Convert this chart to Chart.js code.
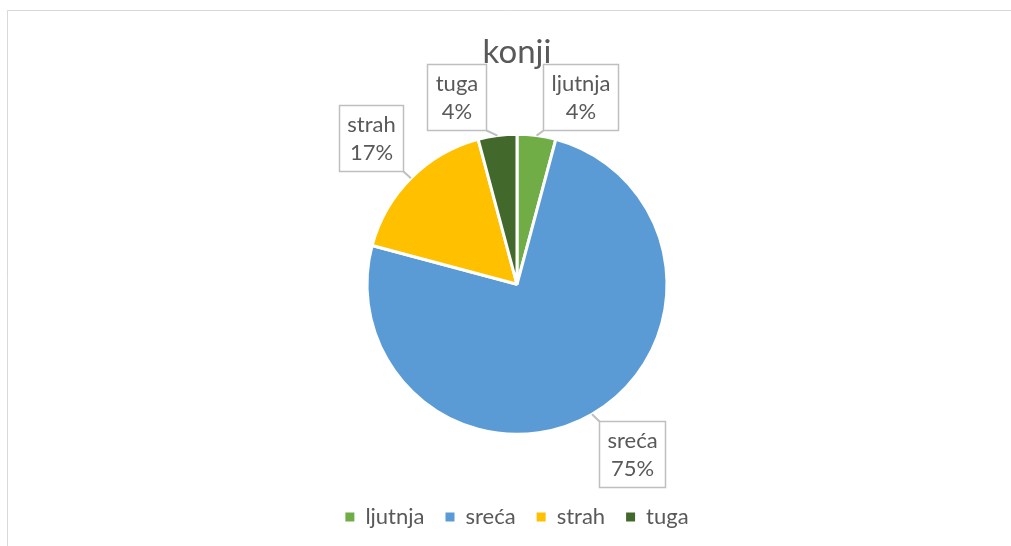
<!DOCTYPE html>
<html>
<head>
<meta charset="utf-8">
<script src="https://cdn.jsdelivr.net/npm/chart.js@4"></script>
<style>
  html, body { margin: 0; padding: 0; background: #fff; }
  #wrap { position: relative; width: 1011px; height: 546px; }
</style>
</head>
<body>
<div id="wrap"><canvas id="konjiChart" width="1011" height="546"></canvas></div>
<script>
'use strict';

var categories = ['ljutnja', 'sreća', 'strah', 'tuga'];
var counts = [1, 18, 4, 1];
var sliceColors = ['#70AD47', '#5B9BD5', '#FFC000', '#43682B'];
var chartTitle = 'konji';

var FONT = 'Lato, "Open Sans", sans-serif';
var TEXT_COLOR = '#595959';

// callout placement: distance from centre (x radius) plus a small nudge per label
var calloutDist = 4 / 3;
var calloutNudge = [[37, 11], [15, -4], [-5, -5], [-34, 11]];

var frame = {
  id: 'frame',
  beforeDraw: function (chart) {
    var ctx = chart.ctx;
    ctx.save();
    ctx.strokeStyle = '#D9D9D9';
    ctx.lineWidth = 1;
    ctx.beginPath();
    ctx.moveTo(7.5, chart.height);
    ctx.lineTo(7.5, 10.5);
    ctx.lineTo(chart.width, 10.5);
    ctx.stroke();
    ctx.restore();
  }
};

var callouts = {
  id: 'callouts',
  afterDatasetsDraw: function (chart) {
    var ctx = chart.ctx;
    var meta = chart.getDatasetMeta(0);
    var data = chart.data.datasets[0].data;
    var total = data.reduce(function (a, b) { return a + b; }, 0);
    ctx.save();
    ctx.font = '22px ' + FONT;
    meta.data.forEach(function (arc, i) {
      var p = arc.getProps(['x', 'y', 'startAngle', 'endAngle', 'outerRadius'], true);
      var mid = (p.startAngle + p.endAngle) / 2;
      var ax = p.x + Math.cos(mid) * p.outerRadius;
      var ay = p.y + Math.sin(mid) * p.outerRadius;
      var cx = p.x + Math.cos(mid) * p.outerRadius * calloutDist + calloutNudge[i][0];
      var cy = p.y + Math.sin(mid) * p.outerRadius * calloutDist + calloutNudge[i][1];
      var lines = [chart.data.labels[i], Math.round(data[i] / total * 100) + '%'];
      var tw = Math.max.apply(null, lines.map(function (t) { return ctx.measureText(t).width; }));
      var w = Math.round(tw + 16), h = 66;
      var left = Math.round(cx - w / 2) + 0.5, top = Math.round(cy - h / 2) + 0.5;
      var nx = Math.min(Math.max(ax, left), left + w);
      var ny = Math.min(Math.max(ay, top), top + h);

      ctx.strokeStyle = '#BFBFBF';
      ctx.lineWidth = 2;
      ctx.beginPath();
      ctx.moveTo(ax, ay);
      ctx.lineTo(nx, ny);
      ctx.stroke();

      ctx.fillStyle = '#FFFFFF';
      ctx.fillRect(left, top, w, h);
      ctx.lineWidth = 1.5;
      ctx.strokeRect(left, top, w, h);

      ctx.fillStyle = TEXT_COLOR;
      ctx.textAlign = 'center';
      ctx.textBaseline = 'middle';
      ctx.fillText(lines[0], left + w / 2, top + 19);
      ctx.fillText(lines[1], left + w / 2, top + 47);
    });
    ctx.restore();
  }
};

new Chart(document.getElementById('konjiChart').getContext('2d'), {
  type: 'pie',
  data: {
    labels: categories,
    datasets: [{
      data: counts,
      backgroundColor: sliceColors,
      borderColor: '#FFFFFF',
      borderWidth: 3
    }]
  },
  options: {
    animation: false,
    responsive: false,
    radius: 150,
    layout: { padding: { left: 23, right: 0, top: 0, bottom: 8 } },
    plugins: {
      title: {
        display: true,
        text: chartTitle,
        color: TEXT_COLOR,
        font: { family: FONT, size: 33, weight: 'normal' },
        padding: { top: 33, bottom: 11 }
      },
      legend: {
        position: 'bottom',
        labels: {
          color: TEXT_COLOR,
          font: { family: FONT, size: 22 },
          boxWidth: 9,
          boxHeight: 9,
          padding: 21,
          generateLabels: function (chart) {
            var items = Chart.overrides.pie.plugins.legend.labels.generateLabels(chart);
            items.forEach(function (it) { it.lineWidth = 0; it.strokeStyle = it.fillStyle; });
            return items;
          }
        }
      },
      tooltip: { enabled: false }
    }
  },
  plugins: [frame, callouts]
});
</script>
</body>
</html>
